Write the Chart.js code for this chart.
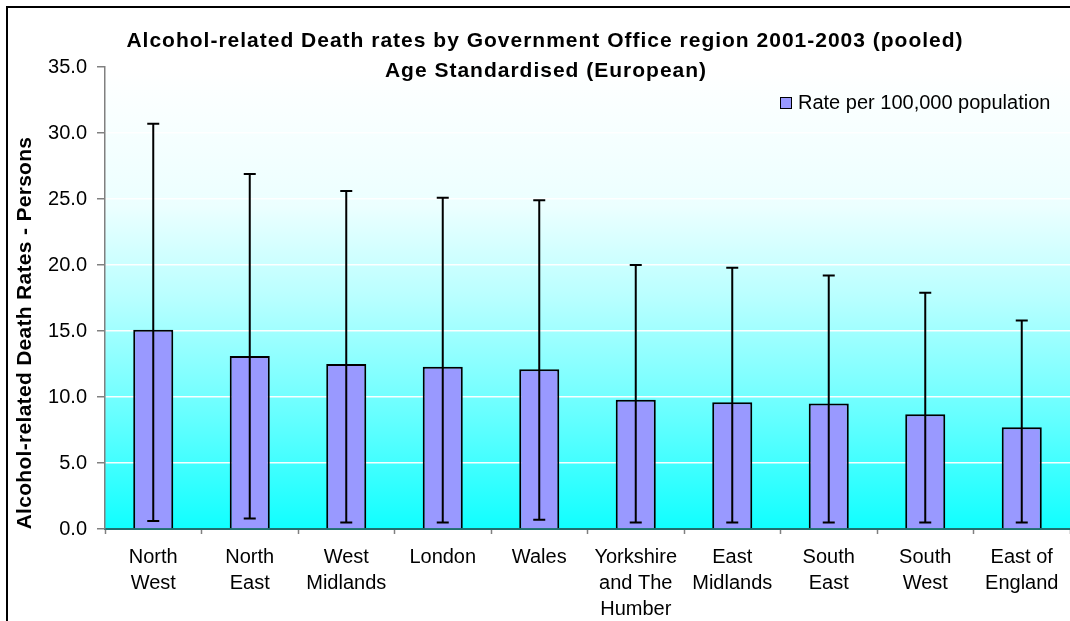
<!DOCTYPE html>
<html>
<head>
<meta charset="utf-8">
<script src="https://cdn.jsdelivr.net/npm/chart.js@4.4.1/dist/chart.umd.min.js"></script>
<style>
  html, body { margin: 0; padding: 0; background: #fff; }
  #wrap { width: 1070px; height: 621px; position: relative; }
</style>
</head>
<body>
<div id="wrap"><canvas id="deathChart"></canvas></div>
<script>
// Regions (multi-line labels as in the original)
const regions = [
    ['North', 'West'], ['North', 'East'], ['West', 'Midlands'], ['London'], ['Wales'],
    ['Yorkshire', 'and The', 'Humber'], ['East', 'Midlands'], ['South', 'East'],
    ['South', 'West'], ['East of', 'England']
];
// Rate per 100,000 population
const rates = [15.1, 13.1, 12.5, 12.3, 12.1, 9.8, 9.6, 9.5, 8.7, 7.7];
// Confidence interval ends
const lowerCI = [0.6, 0.8, 0.5, 0.5, 0.7, 0.5, 0.5, 0.5, 0.5, 0.5];
const upperCI = [30.7, 26.9, 25.6, 25.1, 24.9, 20.0, 19.8, 19.2, 17.9, 15.8];
// y axis ticks
const yTicks = [0, 5, 10, 15, 20, 25, 30, 35];

const titleLines = [
    'Alcohol-related Death rates by Government Office region 2001-2003 (pooled)',
    'Age Standardised (European)'
];
const yTitle = 'Alcohol-related Death Rates - Persons';
const legendLabel = 'Rate per 100,000 population';

const FONT = 'Arial, "Liberation Sans", sans-serif';
const barColor = '#9999ff';

// Hintergrund, Rahmen, Fehlerbalken, Titel und Legende
const decorPlugin = {
    id: 'decor',
    beforeDraw(chart) {
        const c = chart.ctx;
        const a = chart.chartArea;
        c.save();
        c.fillStyle = '#ffffff';
        c.fillRect(0, 0, chart.width, chart.height);
        const g = c.createLinearGradient(0, a.top, 0, a.bottom);
        g.addColorStop(0, '#ffffff');
        g.addColorStop(0.3, '#ecffff');
        g.addColorStop(0.5, '#b8ffff');
        g.addColorStop(0.75, '#68ffff');
        g.addColorStop(1, '#10ffff');
        c.fillStyle = g;
        c.fillRect(a.left, a.top, a.right - a.left, a.bottom - a.top);
        // outer frame
        c.strokeStyle = '#000';
        c.lineWidth = 2;
        c.strokeRect(7, 7, chart.width + 40, chart.height + 40);
        c.restore();
    },
    afterDatasetsDraw(chart) {
        const c = chart.ctx;
        const xs = chart.scales.x, ys = chart.scales.y;
        c.save();
        c.strokeStyle = '#000';
        c.lineWidth = 2;
        regions.forEach((r, i) => {
            const x = xs.getPixelForValue(i);
            const yTop = ys.getPixelForValue(upperCI[i]);
            const yLow = ys.getPixelForValue(lowerCI[i]);
            c.beginPath();
            c.moveTo(x, yTop); c.lineTo(x, yLow);
            c.moveTo(x - 6, yTop); c.lineTo(x + 6, yTop);
            c.moveTo(x - 6, yLow); c.lineTo(x + 6, yLow);
            c.stroke();
        });
        c.restore();
    },
    afterDraw(chart) {
        const c = chart.ctx;
        c.save();
        c.fillStyle = '#000';
        c.textAlign = 'center';
        c.textBaseline = 'middle';
        c.font = 'bold 21px ' + FONT;
        c.letterSpacing = '1px';
        c.fillText(titleLines[0], 545, 41);
        c.fillText(titleLines[1], 546, 71);

        // y axis title
        c.save();
        c.letterSpacing = '0.3px';
        c.translate(25, 333);
        c.rotate(-Math.PI / 2);
        c.fillText(yTitle, 0, 0);
        c.restore();

        // legend
        c.letterSpacing = '0px';
        c.fillStyle = barColor;
        c.fillRect(780.5, 97.5, 11, 11);
        c.strokeStyle = '#000';
        c.lineWidth = 1;
        c.strokeRect(780.5, 97.5, 11, 11);
        c.fillStyle = '#000';
        c.textAlign = 'left';
        c.font = '20px ' + FONT;
        c.fillText(legendLabel, 798, 103);
        c.restore();
    }
};

const ctx = document.getElementById('deathChart').getContext('2d');
const deathChart = new Chart(ctx, {
    type: 'bar',
    data: {
        labels: regions,
        datasets: [{
            label: legendLabel,
            data: rates,
            backgroundColor: barColor,
            borderColor: '#000',
            borderWidth: 2,
            barPercentage: 0.415,
            categoryPercentage: 1.0
        }]
    },
    options: {
        responsive: true,
        maintainAspectRatio: false,
        animation: false,
        layout: { padding: { top: 67, left: 0, right: -6, bottom: 0 } },
        plugins: {
            legend: { display: false },
            title: { display: false },
            tooltip: { enabled: false }
        },
        scales: {
            x: {
                afterFit(scale) { scale.height = 92; },
                grid: {
                    drawOnChartArea: false,
                    drawTicks: true,
                    tickLength: 5,
                    tickColor: '#808080',
                    tickWidth: 1.5
                },
                border: { color: '#1f6f6f', width: 2 },
                ticks: {
                    color: '#000',
                    padding: 10,
                    maxRotation: 0,
                    autoSkip: false,
                    font: { family: FONT, size: 20, lineHeight: 1.3 }
                }
            },
            y: {
                min: 0,
                max: 35,
                afterFit(scale) { scale.width = 105; },
                afterBuildTicks(scale) {
                    scale.ticks = yTicks.map(v => ({ value: v }));
                },
                grid: {
                    color: 'rgba(255,255,255,0.95)',
                    lineWidth: 1.5,
                    drawTicks: true,
                    tickLength: 8,
                    tickColor: '#808080',
                    tickWidth: 1.5
                },
                border: { color: '#808080', width: 1.5 },
                ticks: {
                    color: '#000',
                    padding: 10,
                    font: { family: FONT, size: 20 },
                    callback: v => Number(v).toFixed(1)
                }
            }
        }
    },
    plugins: [decorPlugin]
});
</script>
</body>
</html>
